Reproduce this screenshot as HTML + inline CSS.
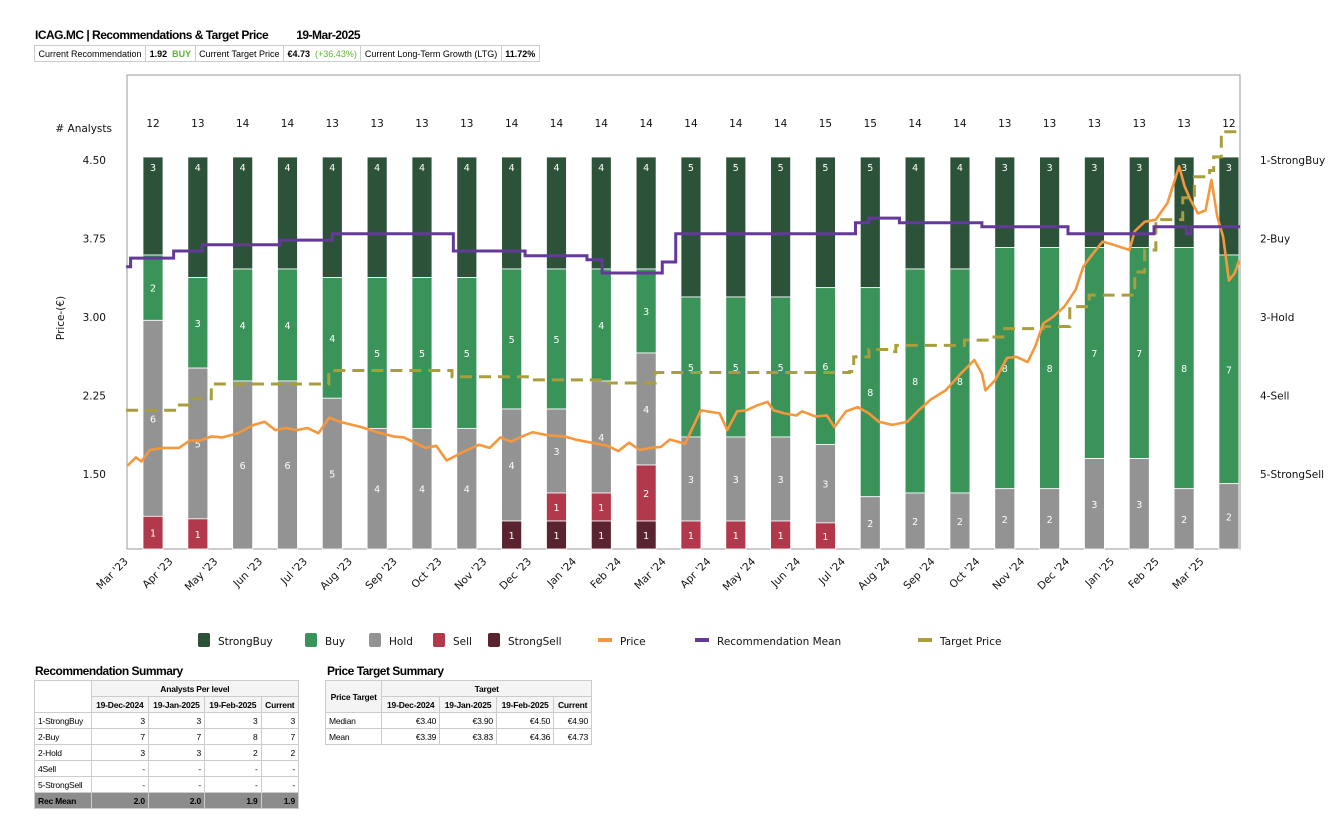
<!DOCTYPE html>
<html><head><meta charset="utf-8">
<style>
body{margin:0;background:#fff;width:1340px;height:828px;overflow:hidden;font-family:"Liberation Sans",sans-serif;position:relative}
.title{position:absolute;left:35px;top:28px;font-size:12px;font-weight:bold;letter-spacing:-0.5px}
.info{position:absolute;left:34px;top:45px;border-collapse:collapse;font-size:9px}
.info td{border:1px solid #ccc;padding:2px 3.5px;height:11px;white-space:nowrap}
.sumt{position:absolute;font-size:12px;font-weight:bold;letter-spacing:-0.5px}
table.s{position:absolute;border-collapse:collapse;font-size:8.5px;letter-spacing:-0.2px}
table.s td{border:1px solid #ccc;height:15px;padding:0 3px;white-space:nowrap}
table.s td.n{text-align:right}
table.s th{border:1px solid #ccc;font-weight:bold;height:15px;padding:0 2px;background:#f4f4f4;white-space:nowrap}
.rm td{background:#8c8c8c;font-weight:bold}
</style></head><body>
<div class="title">ICAG.MC | Recommendations &amp; Target Price<span style="margin-left:28px">19-Mar-2025</span></div>
<table class="info"><tr>
<td>Current Recommendation</td><td><b>1.92</b> &nbsp;<b style="color:#5cb531">BUY</b></td><td>Current Target Price</td><td><b>€4.73</b> &nbsp;<span style="color:#5cb531">(+36.43%)</span></td><td>Current Long-Term Growth (LTG)</td><td><b>11.72%</b></td></tr></table>

<svg id="chart" width="1340" height="660" style="position:absolute;left:0;top:0" font-family="'DejaVu Sans',sans-serif"></svg>

<div class="sumt" style="left:35px;top:664px">Recommendation Summary</div>
<table class="s" style="left:34px;top:680px;width:265px">
<tr><th rowspan="2" style="background:#fff"></th><th colspan="4">Analysts Per level</th></tr>
<tr><th>19-Dec-2024</th><th>19-Jan-2025</th><th>19-Feb-2025</th><th>Current</th></tr>
<tr><td>1-StrongBuy</td><td class="n">3</td><td class="n">3</td><td class="n">3</td><td class="n">3</td></tr>
<tr><td>2-Buy</td><td class="n">7</td><td class="n">7</td><td class="n">8</td><td class="n">7</td></tr>
<tr><td>2-Hold</td><td class="n">3</td><td class="n">3</td><td class="n">2</td><td class="n">2</td></tr>
<tr><td>4Sell</td><td class="n">-</td><td class="n">-</td><td class="n">-</td><td class="n">-</td></tr>
<tr><td>5-StrongSell</td><td class="n">-</td><td class="n">-</td><td class="n">-</td><td class="n">-</td></tr>
<tr class="rm"><td>Rec Mean</td><td class="n">2.0</td><td class="n">2.0</td><td class="n">1.9</td><td class="n">1.9</td></tr>
</table>
<div class="sumt" style="left:327px;top:664px">Price Target Summary</div>
<table class="s" style="left:325px;top:680px;width:267px">
<tr><th rowspan="2">Price Target</th><th colspan="4">Target</th></tr>
<tr><th>19-Dec-2024</th><th>19-Jan-2025</th><th>19-Feb-2025</th><th>Current</th></tr>
<tr><td>Median</td><td class="n">€3.40</td><td class="n">€3.90</td><td class="n">€4.50</td><td class="n">€4.90</td></tr>
<tr><td>Mean</td><td class="n">€3.39</td><td class="n">€3.83</td><td class="n">€4.36</td><td class="n">€4.73</td></tr>
</table>

<script>
// ---- data ----
const strongBuy=[3,4,4,4,4,4,4,4,4,4,4,4,5,5,5,5,5,4,4,3,3,3,3,3,3];
const buy=[2,3,4,4,4,5,5,5,5,5,4,3,5,5,5,6,8,8,8,8,8,7,7,8,7];
const hold=[6,5,6,6,5,4,4,4,4,3,4,4,3,3,3,3,2,2,2,2,2,3,3,2,2];
const sell=[1,1,0,0,0,0,0,0,0,1,1,2,1,1,1,1,0,0,0,0,0,0,0,0,0];
const strongSell=[0,0,0,0,0,0,0,0,1,1,1,1,0,0,0,0,0,0,0,0,0,0,0,0,0];
const monthLabels=["Mar '23","Apr '23","May '23","Jun '23","Jul '23","Aug '23","Sep '23","Oct '23","Nov '23","Dec '23","Jan '24","Feb '24","Mar '24","Apr '24","May '24","Jun '24","Jul '24","Aug '24","Sep '24","Oct '24","Nov '24","Dec '24","Jan '25","Feb '25","Mar '25"];
const priceTicks=[4.50,3.75,3.00,2.25,1.50];
const recLabels=["1-StrongBuy","2-Buy","3-Hold","4-Sell","5-StrongSell"];
// time in months since 19-Mar-2023
const priceT=[-0.57,-0.38,-0.26,-0.07,0.22,0.58,0.82,1.06,1.30,1.54,1.89,2.25,2.49,2.73,2.97,3.21,3.45,3.69,3.93,4.16,4.64,5.0,5.36,5.60,5.84,6.08,6.32,6.55,6.91,7.27,7.51,7.75,7.99,8.23,8.47,8.82,9.18,9.42,9.78,10.14,10.38,10.62,10.86,11.10,11.33,11.53,11.87,12.22,12.64,12.81,13.03,13.24,13.5,13.71,13.84,14.09,14.35,14.48,14.78,15.03,15.2,15.46,15.72,15.97,16.19,16.49,16.83,17.08,17.34,17.68,18.02,18.32,18.49,18.57,18.79,19.05,19.26,19.51,19.68,19.86,20.07,20.33,20.58,20.75,20.92,21.18,21.43,21.78,21.9,22.12,22.37,22.63,22.89,23.01,23.14,23.31,23.48,23.61,23.74,23.87,24.0,24.13,24.23];
const priceV=[1.58,1.66,1.62,1.73,1.75,1.75,1.82,1.82,1.86,1.85,1.89,1.97,2.0,1.92,1.94,1.92,1.94,1.89,2.04,2.0,1.95,1.90,1.86,1.85,1.80,1.75,1.77,1.63,1.71,1.78,1.75,1.85,1.81,1.86,1.90,1.87,1.86,1.83,1.80,1.77,1.72,1.80,1.73,1.75,1.76,1.83,1.79,2.11,2.08,1.92,2.10,2.11,2.16,2.19,2.11,2.08,2.06,2.10,2.05,2.06,1.95,2.10,2.14,2.08,2.0,1.97,2.0,2.11,2.21,2.30,2.46,2.59,2.46,2.30,2.40,2.61,2.62,2.57,2.72,2.94,3.0,3.10,3.26,3.48,3.58,3.72,3.69,3.64,3.82,3.91,3.93,4.09,4.44,4.25,4.12,3.99,4.02,4.31,3.96,3.77,3.35,3.42,3.54];
const targetT=[-0.6,0.55,0.8,1.3,3.92,6.67,8.35,10.02,11.2,15.54,15.63,15.97,16.48,16.57,18.1,18.66,18.96,19.86,20.45,20.88,21.9,22.12,22.37,22.97,23.23,23.57,23.66,23.83];
const targetV=[2.11,2.16,2.22,2.36,2.49,2.43,2.40,2.37,2.47,2.48,2.62,2.69,2.67,2.73,2.78,2.81,2.89,2.91,3.10,3.21,3.43,3.64,3.93,4.14,4.34,4.40,4.53,4.77];
const recT=[-0.6,-0.5,0.46,1.1,2.83,4.0,6.7,8.3,9.68,10.02,11.36,11.66,15.67,15.97,16.65,18.49,20.41,22.33,23.05,23.15];
const recV=[2.36,2.25,2.16,2.08,2.02,1.94,2.16,2.22,2.27,2.44,2.30,1.94,1.80,1.74,1.80,1.85,1.94,1.85,1.94,1.85];

// ---- axes ----
const PL=127,PR=1240,PT=75,PB=549,BAR_TOP=157,BW=20;
const X=m=>153+m*44.83;
const YP=p=>160+(4.5-p)*104.7;
const YR=r=>160+(r-1)*78.5;
const T_END=24.25;
const svg=document.getElementById('chart');
const NS='http://www.w3.org/2000/svg';
function mk(tag,a,parent){const e=document.createElementNS(NS,tag);for(const k in a)e.setAttribute(k,a[k]);(parent||svg).appendChild(e);return e;}
const colors=['#2c5239','#3a9359','#939393','#b2384c','#5b2330'];
const names=['strongbuy','buy','hold','sell','strongsell'];

const frame=mk('rect',{x:PL,y:PT,width:PR-PL,height:PB-PT,fill:'none',stroke:'#999','stroke-width':1});



// bars
const series=[strongBuy,buy,hold,sell,strongSell];
for(let i=0;i<strongBuy.length;i++){
  const tot=strongBuy[i]+buy[i]+hold[i]+sell[i]+strongSell[i];
  const unit=(PB-BAR_TOP)/tot;
  let y=BAR_TOP;
  const cx=X(i);
  for(let s=0;s<5;s++){
    const v=series[s][i]; if(!v) continue;
    const h=v*unit;
    const r=mk('rect',{x:cx-BW/2,y:y,width:BW,height:h,fill:colors[s],stroke:'#fff','stroke-width':0.8});
    
    
    const ty=(s===0)?y+14:y+h/2+4;
    const t=mk('text',{x:cx,y:ty,'text-anchor':'middle','font-size':9.5,fill:'#fff'});
    t.textContent=v;
    
    
    y+=h;
  }
  const c=mk('text',{x:cx,y:127,'text-anchor':'middle','font-size':10.5,fill:'#111'});
  c.textContent=tot;
  
  
}

function pathFrom(T,V,yf,step){
  let d='';
  for(let i=0;i<T.length;i++){
    const x=X(T[i]),y=yf(V[i]);
    if(i===0)d+='M'+x+','+y;
    else if(step)d+='H'+x+'V'+y;
    else d+='L'+x+','+y;
  }
  if(step)d+='H'+X(T_END);
  return d;
}
const tp=mk('path',{d:pathFrom(targetT,targetV,YP,true),fill:'none',stroke:'#a89f3c','stroke-width':3,'stroke-dasharray':'12,7'});


const pr=mk('path',{d:pathFrom(priceT,priceV,YP,false),fill:'none',stroke:'#f5973c','stroke-width':2.6,'stroke-linejoin':'round'});


const rm=mk('path',{d:pathFrom(recT,recV,YR,true),fill:'none',stroke:'#64399a','stroke-width':3});



// left axis
priceTicks.forEach(p=>{
  const t=mk('text',{x:106,y:YP(p)+4,'text-anchor':'end','font-size':10.5,fill:'#111'});
  t.textContent=p.toFixed(2);
  
  
});
const an=mk('text',{x:112,y:132,'text-anchor':'end','font-size':10.5,fill:'#111'});
an.textContent='# Analysts';


const yt=mk('text',{x:64,y:318,'text-anchor':'middle','font-size':10.5,fill:'#111',transform:'rotate(-90 64 318)'});
yt.textContent='Price-(€)';


recLabels.forEach((l,i)=>{
  const t=mk('text',{x:1260,y:YR(i+1)+4,'font-size':10.5,fill:'#111'});
  t.textContent=l;
  
  
});
// x labels
monthLabels.forEach((l,k)=>{
  const x=X(k-0.59)+2,y=562;
  const t=mk('text',{x:x,y:y,'text-anchor':'end','font-size':10.5,fill:'#111',transform:`rotate(-45 ${x} ${y})`});
  t.textContent=l;
  
  
});
// legend
const leg=[['StrongBuy','box',colors[0],198],['Buy','box',colors[1],305],['Hold','box',colors[2],369],['Sell','box',colors[3],433],['StrongSell','box',colors[4],488],['Price','line','#f5973c',598],['Recommendation Mean','line','#64399a',695],['Target Price','line','#a89f3c',918]];
leg.forEach(([n,k,c,x])=>{
  const g=mk('g',{});
  
  
  if(k==='box')mk('rect',{x:x,y:633,width:12,height:14,rx:2,fill:c},g);
  else mk('rect',{x:x,y:638,width:14,height:4,fill:c},g);
  const t=mk('text',{x:x+(k==='box'?20:22),y:645,'font-size':10.5,fill:'#111'},g);
  t.textContent=n;
});
</script>
</body></html>
